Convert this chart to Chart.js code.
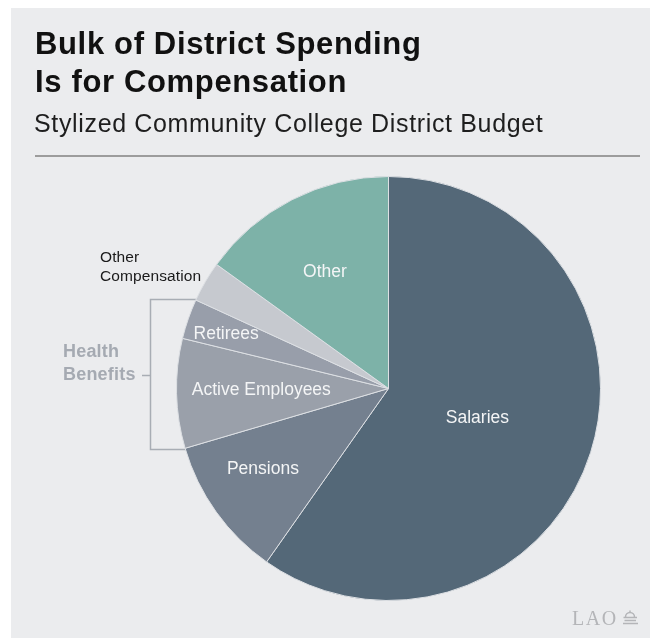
<!DOCTYPE html>
<html>
<head>
<meta charset="utf-8">
<script src="https://cdn.jsdelivr.net/npm/chart.js@4/dist/chart.umd.min.js"></script>
<style>
  html, body { margin: 0; padding: 0; background: #ffffff; }
  #wrap { position: relative; width: 651px; height: 639px; }
  canvas { display: block; }
</style>
</head>
<body>
<div id="wrap"><canvas id="pie" width="651" height="639"></canvas></div>
<script>
// Stylized community college district budget, share of spending (%)
const categories = ['Salaries', 'Pensions', 'Active Employees', 'Retirees', 'Other Compensation', 'Other'];
const shares = [59.75, 10.7, 8.35, 3.05, 3.1, 15.05];
const sliceColors = ['#546878', '#74808f', '#9aa0aa', '#989eaa', '#c6c9cf', '#7db2a8'];

// Where each in-slice label sits: fraction along the slice's sweep and of the radius
const labelSweep = [0.50, 0.59, 0.54, 0.49, null, 0.476];
const labelRadius = [0.44, 0.70, 0.60, 0.81, null, 0.63];

const titleLines = ['Bulk of District Spending', 'Is for Compensation'];
const subtitle = 'Stylized Community College District Budget';

const FONT = '"Liberation Sans", Arial, Helvetica, sans-serif';

function textAt(ctx, str, x, y, font, color, align, spacing) {
  ctx.save();
  ctx.font = font;
  ctx.fillStyle = color;
  ctx.textAlign = align || 'left';
  ctx.textBaseline = 'alphabetic';
  if ('letterSpacing' in ctx) ctx.letterSpacing = (spacing || 0) + 'px';
  ctx.fillText(str, x, y);
  ctx.restore();
}

const decorations = {
  id: 'decorations',
  beforeDraw(chart) {
    const ctx = chart.ctx;
    ctx.save();
    // panel
    ctx.fillStyle = '#ffffff';
    ctx.fillRect(0, 0, chart.width, chart.height);
    ctx.fillStyle = '#ebecee';
    ctx.fillRect(11, 8, 639, 630);
    ctx.restore();

    // heading
    textAt(ctx, titleLines[0], 35, 53.5, 'bold 31px ' + FONT, '#111111', 'left', 0.65);
    textAt(ctx, titleLines[1], 35, 91.5, 'bold 31px ' + FONT, '#111111', 'left', 0.65);
    textAt(ctx, subtitle, 34, 131.5, '25px ' + FONT, '#1e1e1e', 'left', 0.65);

    // rule under heading
    ctx.save();
    ctx.strokeStyle = '#9c9c9c';
    ctx.lineWidth = 2;
    ctx.beginPath();
    ctx.moveTo(35, 156);
    ctx.lineTo(640, 156);
    ctx.stroke();
    ctx.restore();

    // bracket grouping the health benefit slices
    const arc = chart.getDatasetMeta(0).data[0];
    const cx = arc.x, cy = arc.y, r = arc.outerRadius;
    const yTop = 299.5, yBot = 449.5, xB = 150.5;
    const edgeX = y => cx - Math.sqrt(r * r - (y - cy) * (y - cy));
    ctx.save();
    ctx.strokeStyle = '#a8adb4';
    ctx.lineWidth = 1.5;
    ctx.beginPath();
    ctx.moveTo(edgeX(yTop) + 2, yTop);
    ctx.lineTo(xB, yTop);
    ctx.lineTo(xB, yBot);
    ctx.lineTo(edgeX(yBot) + 2, yBot);
    ctx.moveTo(142, 375.5);
    ctx.lineTo(xB, 375.5);
    ctx.stroke();
    ctx.restore();

    textAt(ctx, 'Health', 63, 356.5, 'bold 18px ' + FONT, '#a5aab2', 'left', 0.2);
    textAt(ctx, 'Benefits', 63, 379.5, 'bold 18px ' + FONT, '#a5aab2', 'left', 0.2);

    textAt(ctx, 'Other', 100, 261.5, '15.5px ' + FONT, '#1a1a1a', 'left', 0.1);
    textAt(ctx, 'Compensation', 100, 280.5, '15.5px ' + FONT, '#1a1a1a', 'left', 0.1);

    // LAO mark
    textAt(ctx, 'LAO', 572, 624.5, '20px "Liberation Serif", "DejaVu Serif", serif', '#b4b5b8', 'left', 1.5);
    ctx.save();
    ctx.strokeStyle = '#b4b5b8';
    ctx.lineWidth = 1.5;
    ctx.beginPath();
    ctx.arc(630, 617, 4.5, Math.PI, 0);
    ctx.moveTo(630, 610.5); ctx.lineTo(630, 612.5);
    ctx.moveTo(623.5, 617.5); ctx.lineTo(637, 617.5);
    ctx.moveTo(624.5, 620.5); ctx.lineTo(636, 620.5);
    ctx.moveTo(623, 623.5); ctx.lineTo(638, 623.5);
    ctx.stroke();
    ctx.restore();
  },
  afterDatasetsDraw(chart) {
    const ctx = chart.ctx;
    const meta = chart.getDatasetMeta(0);
    meta.data.forEach((arc, i) => {
      if (labelSweep[i] == null) return;
      const a = arc.startAngle + (arc.endAngle - arc.startAngle) * labelSweep[i];
      const d = arc.outerRadius * labelRadius[i];
      const x = arc.x + Math.cos(a) * d;
      const y = arc.y + Math.sin(a) * d;
      const size = 17.5;
      textAt(ctx, categories[i], x, y + size * 0.358, size + 'px ' + FONT, '#f4f5f6', 'center', 0);
    });
  }
};

new Chart(document.getElementById('pie'), {
  type: 'pie',
  data: {
    labels: categories,
    datasets: [{
      data: shares,
      backgroundColor: sliceColors,
      borderColor: '#dde0e4',
      borderWidth: 1
    }]
  },
  options: {
    responsive: false,
    animation: false,
    devicePixelRatio: 1,
    layout: { padding: { left: 176, right: 50, top: 176, bottom: 38 } },
    plugins: {
      legend: { display: false },
      tooltip: { enabled: false },
      title: { display: false }
    }
  },
  plugins: [decorations]
});
</script>
</body>
</html>
